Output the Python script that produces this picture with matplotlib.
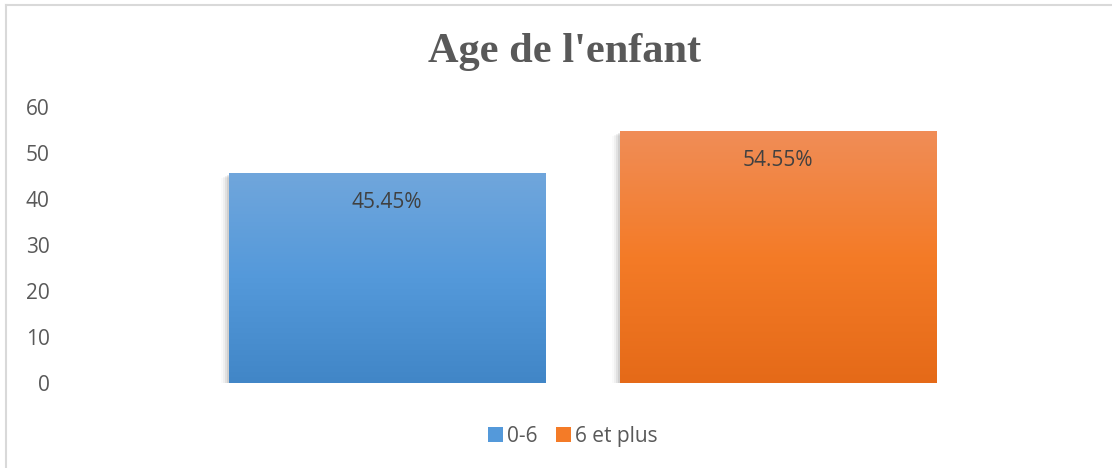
import numpy as np
import matplotlib.pyplot as plt
from matplotlib.colors import LinearSegmentedColormap
from matplotlib.lines import Line2D
from matplotlib.patches import Patch

# data
series = ['0-6', '6 et plus']
values = [45.45, 54.55]
labels = ['45.45%', '54.55%']
yticks = [0, 10, 20, 30, 40, 50, 60]

# gradients top -> bottom
grads = [['#70A6DC', '#5499DA', '#4186C7'],
         ['#F08D57', '#F47B27', '#E56A18']]

fig = plt.figure(figsize=(11.12, 4.68), dpi=100)
ax = fig.add_axes([0.052, 0.182, 0.937, 0.59])

x = np.arange(len(series))
w = 0.809
bars = ax.bar(x, values, width=w, color='none', zorder=2)

for i, b in enumerate(bars):
    x0 = b.get_x()
    h = b.get_height()
    # soft shadow
    for k, a in enumerate([0.08, 0.06, 0.04, 0.02]):
        ax.add_patch(plt.Rectangle((x0 - 0.005 * (k + 1), -0.25 * (k + 1)), w, h,
                                   color='black', alpha=a, lw=0, zorder=1))
    cmap = LinearSegmentedColormap.from_list('g%d' % i, grads[i][::-1])
    grad = np.linspace(0, 1, 256).reshape(-1, 1)
    ax.imshow(grad, cmap=cmap, origin='lower', aspect='auto',
              extent=[x0, x0 + w, 0, h], zorder=2)
    ax.text(b.get_x() + w / 2, h - 6.3, labels[i], ha='center', va='center',
            fontsize=15, color='#404040', family='Open Sans', zorder=3)

ax.set_aspect('auto')
ax.set_xlim(-0.842, 1.822)
ax.set_ylim(0, 60)
ax.set_yticks(yticks)
ax.set_xticks([])
ax.tick_params(axis='y', length=0, pad=6, labelsize=15, labelcolor='#595959')
for lab in ax.get_yticklabels():
    lab.set_family('Open Sans')
for s in ax.spines.values():
    s.set_visible(False)

fig.text(0.508, 0.889, "Age de l'enfant", ha='center', va='center',
         fontsize=30.5, fontweight='bold', family='Liberation Serif', color='#595959')

handles = [Patch(facecolor=grads[i][1], edgecolor='none') for i in range(2)]
fig.legend(handles, series, loc='center', bbox_to_anchor=(0.515, 0.068),
           ncol=2, frameon=False, handlelength=0.7, handleheight=0.7,
           handletextpad=0.2, columnspacing=0.9, prop={'family': 'Open Sans', 'size': 15},
           labelcolor='#595959')

# chart border (left and top only visible)
fig.add_artist(Line2D([0.0055, 0.0055], [0, 0.989], color='#D9D9D9', lw=1.5))
fig.add_artist(Line2D([0.0055, 1], [0.989, 0.989], color='#D9D9D9', lw=1.5))

fig.savefig('out.png', dpi=100)
